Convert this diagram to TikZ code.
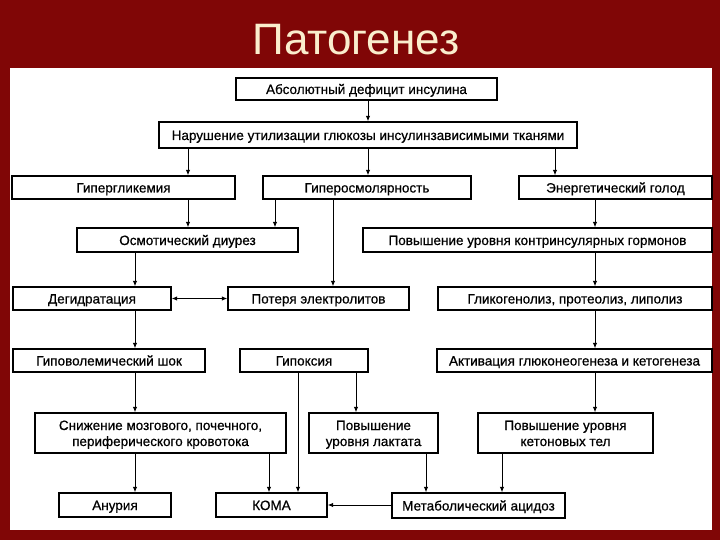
\documentclass[tikz,border=0pt]{standalone}
\usepackage{fontspec}
\setmainfont{Liberation Sans}
\newfontfamily\boxfont[FakeBold=0.6]{Liberation Sans}
\usetikzlibrary{arrows.meta,calc}
\definecolor{bgred}{RGB}{128,6,6}
\definecolor{titlecol}{RGB}{250,238,205}
\begin{document}
\begin{tikzpicture}[x=1pt,y=-1pt,
  box/.style={draw=black, line width=1.3pt, fill=white, inner sep=0pt, font=\boxfont\fontsize{13.5}{16}\selectfont, align=center, text height=12pt, text depth=2pt},
  twoline/.style={text height=28pt},
  arr/.style={line width=1pt, -{Latex[length=5.5pt,width=4.5pt]}},
  darr/.style={line width=1pt, {Latex[length=5.5pt,width=4.5pt]}-{Latex[length=5.5pt,width=4.5pt]}}]
\useasboundingbox (0,0) rectangle (720,540);
\fill[bgred] (0,0) rectangle (720,540);
\fill[white] (10,68) rectangle (712,530);
\node[font=\fontsize{44}{50}\selectfont, text=titlecol, anchor=base, inner sep=0pt] (title) at (356,55) {Патогенез};

\node[box, minimum width=261, minimum height=22] (abs) at (366.5,89) {Абсолютный дефицит инсулина};
\node[box, minimum width=418, minimum height=26] (nar) at (368,135) {Нарушение утилизации глюкозы инсулинзависимыми тканями};
\node[box, minimum width=223, minimum height=23] (gipergl) at (123.5,187.5) {Гипергликемия};
\node[box, minimum width=208, minimum height=23] (giperosm) at (367,187.5) {Гиперосмолярность};
\node[box, minimum width=193, minimum height=23] (energ) at (615.5,187.5) {Энергетический голод};
\node[box, minimum width=221, minimum height=24] (osm) at (187.5,240) {Осмотический диурез};
\node[box, minimum width=349, minimum height=24] (povkontr) at (537.5,240) {Повышение уровня контринсулярных гормонов};
\node[box, minimum width=158, minimum height=23] (degid) at (92,298.5) {Дегидратация};
\node[box, minimum width=181, minimum height=23] (poter) at (318.5,298.5) {Потеря электролитов};
\node[box, minimum width=274, minimum height=23] (glik) at (575,298.5) {Гликогенолиз, протеолиз, липолиз};
\node[box, minimum width=192, minimum height=23] (gipovol) at (109,360.5) {Гиповолемический шок};
\node[box, minimum width=128, minimum height=23] (gipoks) at (304,360.5) {Гипоксия};
\node[box, minimum width=275, minimum height=23] (aktiv) at (574.5,360.5) {Активация глюконеогенеза и кетогенеза};
\node[box, twoline, minimum width=251, minimum height=40] (snizh) at (160.5,433) {Снижение мозгового, почечного,\\периферического кровотока};
\node[box, twoline, minimum width=129, minimum height=40] (laktat) at (373.5,433) {Повышение\\уровня лактата};
\node[box, twoline, minimum width=175, minimum height=40] (keton) at (565.5,433) {Повышение уровня\\кетоновых тел};
\node[box, minimum width=112, minimum height=24] (anur) at (115,505) {Анурия};
\node[box, minimum width=111, minimum height=24] (koma) at (271.5,505) {КОМА};
\node[box, minimum width=173, minimum height=25] (metab) at (478.5,505.5) {Метаболический ацидоз};

\coordinate (c135) at (135,0);
\coordinate (c188) at (188,0);
\coordinate (c269) at (269,0);
\coordinate (c275) at (275,0);
\coordinate (c298) at (298,0);
\coordinate (c333) at (333,0);
\coordinate (c356) at (356,0);
\coordinate (c368) at (368,0);
\coordinate (c426) at (426,0);
\coordinate (c502) at (502,0);
\coordinate (c555) at (555,0);
\coordinate (c595) at (595,0);

\draw[arr] (abs.south -| c368) -- (nar.north -| c368);
\draw[arr] (nar.south -| c188) -- (gipergl.north -| c188);
\draw[arr] (nar.south -| c368) -- (giperosm.north -| c368);
\draw[arr] (nar.south -| c555) -- (energ.north -| c555);
\draw[arr] (gipergl.south -| c188) -- (osm.north -| c188);
\draw[arr] (giperosm.south -| c275) -- (osm.north -| c275);
\draw[arr] (giperosm.south -| c333) -- (poter.north -| c333);
\draw[arr] (energ.south -| c595) -- (povkontr.north -| c595);
\draw[arr] (povkontr.south -| c595) -- (glik.north -| c595);
\draw[arr] (osm.south -| c135) -- (degid.north -| c135);
\draw[darr] (degid.east) -- (poter.west);
\draw[arr] (glik.south -| c595) -- (aktiv.north -| c595);
\draw[arr] (degid.south -| c135) -- (gipovol.north -| c135);
\draw[arr] (gipovol.south -| c135) -- (snizh.north -| c135);
\draw[arr] (gipoks.south -| c298) -- (koma.north -| c298);
\draw[arr] (gipoks.south -| c356) -- (laktat.north -| c356);
\draw[arr] (aktiv.south -| c595) -- (keton.north -| c595);
\draw[arr] (snizh.south -| c135) -- (anur.north -| c135);
\draw[arr] (snizh.south -| c269) -- (koma.north -| c269);
\draw[arr] (laktat.south -| c426) -- (metab.north -| c426);
\draw[arr] (keton.south -| c502) -- (metab.north -| c502);
\draw[arr] (metab.west |- koma.east) -- (koma.east);
\end{tikzpicture}
\end{document}
